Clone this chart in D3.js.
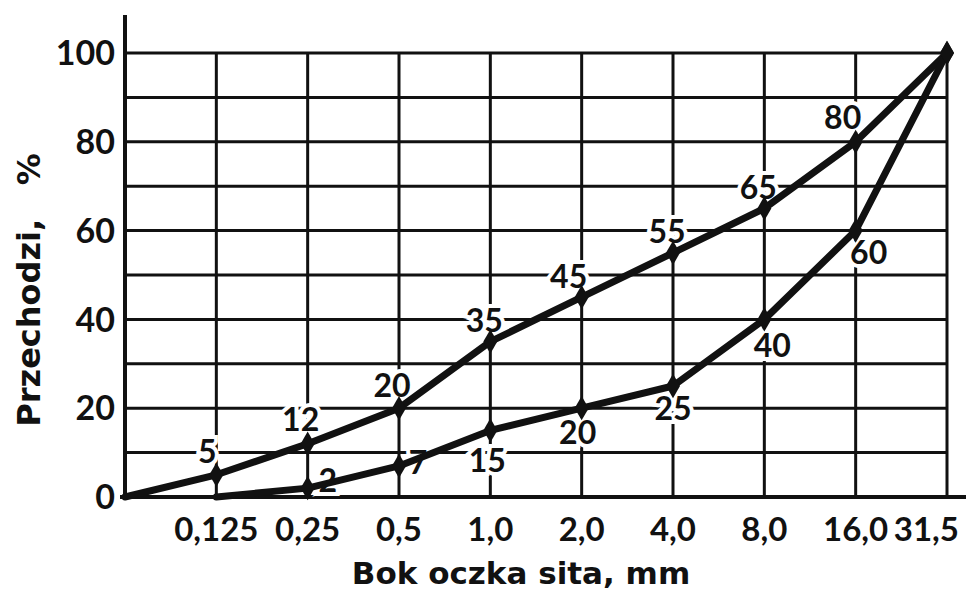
<!DOCTYPE html>
<html><head><meta charset="utf-8">
<script src="https://cdn.jsdelivr.net/npm/d3@7"></script>
<style>
html,body{margin:0;padding:0;background:#fff;}
svg{display:block;}
text{font-family:Lato,"DejaVu Sans",sans-serif;font-weight:700;fill:#111;}
text.title{font-family:"DejaVu Sans",sans-serif;font-weight:700;}
</style></head>
<body>
<script>
// ---- data ----
const sieveLabels = ["", "0,125", "0,25", "0,5", "1,0", "2,0", "4,0", "8,0", "16,0", "31,5"];
const yTicks = [0, 20, 40, 60, 80, 100];
const upperIdx = [0, 1, 2, 3, 4, 5, 6, 7, 8, 9];
const upperValues = [0, 5, 12, 20, 35, 45, 55, 65, 80, 100];
const lowerIdx = [1, 2, 3, 4, 5, 6, 7, 8, 9];
const lowerValues = [0, 2, 7, 15, 20, 25, 40, 60, 100];
const upperShown = [false, true, true, true, true, true, true, true, true, false];
const lowerShown = [false, true, true, true, true, true, true, true, false];
const xTitle = "Bok oczka sita, mm";
const yTitle = "Przechodzi,   %";

// ---- layout ----
const W = 966, H = 593;
const svg = d3.select("body").append("svg").attr("width", W).attr("height", H);
const x = d3.scalePoint().domain(d3.range(sieveLabels.length)).range([125, 947]);
const y = d3.scaleLinear().domain([0, 100]).range([497, 53]);

const upperOff = [[0,0],[-9,-23],[-7,-24],[-7,-23],[-6,-21],[-13,-21],[-6,-21],[-6,-21],[-13,-24],[0,0]];
const lowerOff = [[0,0],[20,-8],[19,-3],[-3,30],[-4,24],[0,22],[8,26],[13,22],[0,0]];

const g = svg.append("g");
// grid
const gridTicks = d3.range(10, 101, 10);
g.selectAll("line.h").data(gridTicks).join("line")
  .attr("x1", x(0)).attr("x2", x(9)).attr("y1", d => y(d)).attr("y2", d => y(d))
  .attr("stroke", "#111").attr("stroke-width", 3);
g.selectAll("line.v").data(d3.range(1, 10)).join("line")
  .attr("x1", d => x(d)).attr("x2", d => x(d)).attr("y1", y(100)).attr("y2", y(0))
  .attr("stroke", "#111").attr("stroke-width", 3);
// axes lines
g.append("line").attr("x1", x(0)).attr("x2", x(0)).attr("y1", 15).attr("y2", y(0) + 2)
  .attr("stroke", "#111").attr("stroke-width", 4);
g.append("line").attr("x1", 120).attr("x2", 966).attr("y1", y(0)).attr("y2", y(0))
  .attr("stroke", "#111").attr("stroke-width", 4);

// y tick labels
g.selectAll("text.yt").data(yTicks).join("text")
  .attr("x", 115).attr("y", d => y(d)).attr("dy", "0.36em")
  .attr("text-anchor", "end").attr("font-size", 34).text(d => d);
// x tick labels
g.selectAll("text.xt").data(sieveLabels).join("text")
  .attr("x", (d, i) => i === sieveLabels.length - 1 ? 959 : x(i))
  .attr("y", 541)
  .attr("text-anchor", (d, i) => i === sieveLabels.length - 1 ? "end" : "middle")
  .attr("font-size", 33).text(d => d);

// titles
g.append("text").attr("class", "title").attr("x", 521).attr("y", 584).attr("text-anchor", "middle")
  .attr("font-size", 31).text(xTitle);
g.append("text").attr("class", "title").attr("transform", "translate(40,290) rotate(-90)")
  .attr("text-anchor", "middle").attr("font-size", 32).attr("xml:space", "preserve")
  .style("white-space", "pre").text(yTitle);

// data labels prep
const labels = [];
upperValues.forEach((v, i) => { if (upperShown[i]) labels.push({x: x(upperIdx[i]) + upperOff[i][0], y: y(v) + upperOff[i][1], t: v}); });
lowerValues.forEach((v, i) => { if (lowerShown[i]) labels.push({x: x(lowerIdx[i]) + lowerOff[i][0], y: y(v) + lowerOff[i][1], t: v}); });

// halo layer
g.selectAll("text.halo").data(labels).join("text")
  .attr("x", d => d.x).attr("y", d => d.y).attr("dy", "0.36em")
  .attr("text-anchor", "middle").attr("font-size", 32)
  .style("fill", "#fff").attr("stroke", "#fff").attr("stroke-width", 8)
  .text(d => d.t);

// curves
const line = d3.line().x(d => x(d[0])).y(d => y(d[1]));
const series = [
  upperIdx.map((k, i) => [k, upperValues[i]]),
  lowerIdx.map((k, i) => [k, lowerValues[i]])
];
g.selectAll("path.curve").data(series).join("path")
  .attr("d", line).attr("fill", "none").attr("stroke", "#111")
  .attr("stroke-width", 7).attr("stroke-linejoin", "round").attr("stroke-linecap", "round");

// markers
const sym = d3.symbol().type(d3.symbolDiamond).size(170);
series.forEach(s => {
  g.selectAll(null).data(s.slice(1)).join("path")
    .attr("transform", d => `translate(${x(d[0])},${y(d[1])})`)
    .attr("d", sym).attr("fill", "#111");
});

// label text
g.selectAll("text.lab").data(labels).join("text")
  .attr("x", d => d.x).attr("y", d => d.y).attr("dy", "0.36em")
  .attr("text-anchor", "middle").attr("font-size", 32)
  .text(d => d.t);
</script>
</body></html>
